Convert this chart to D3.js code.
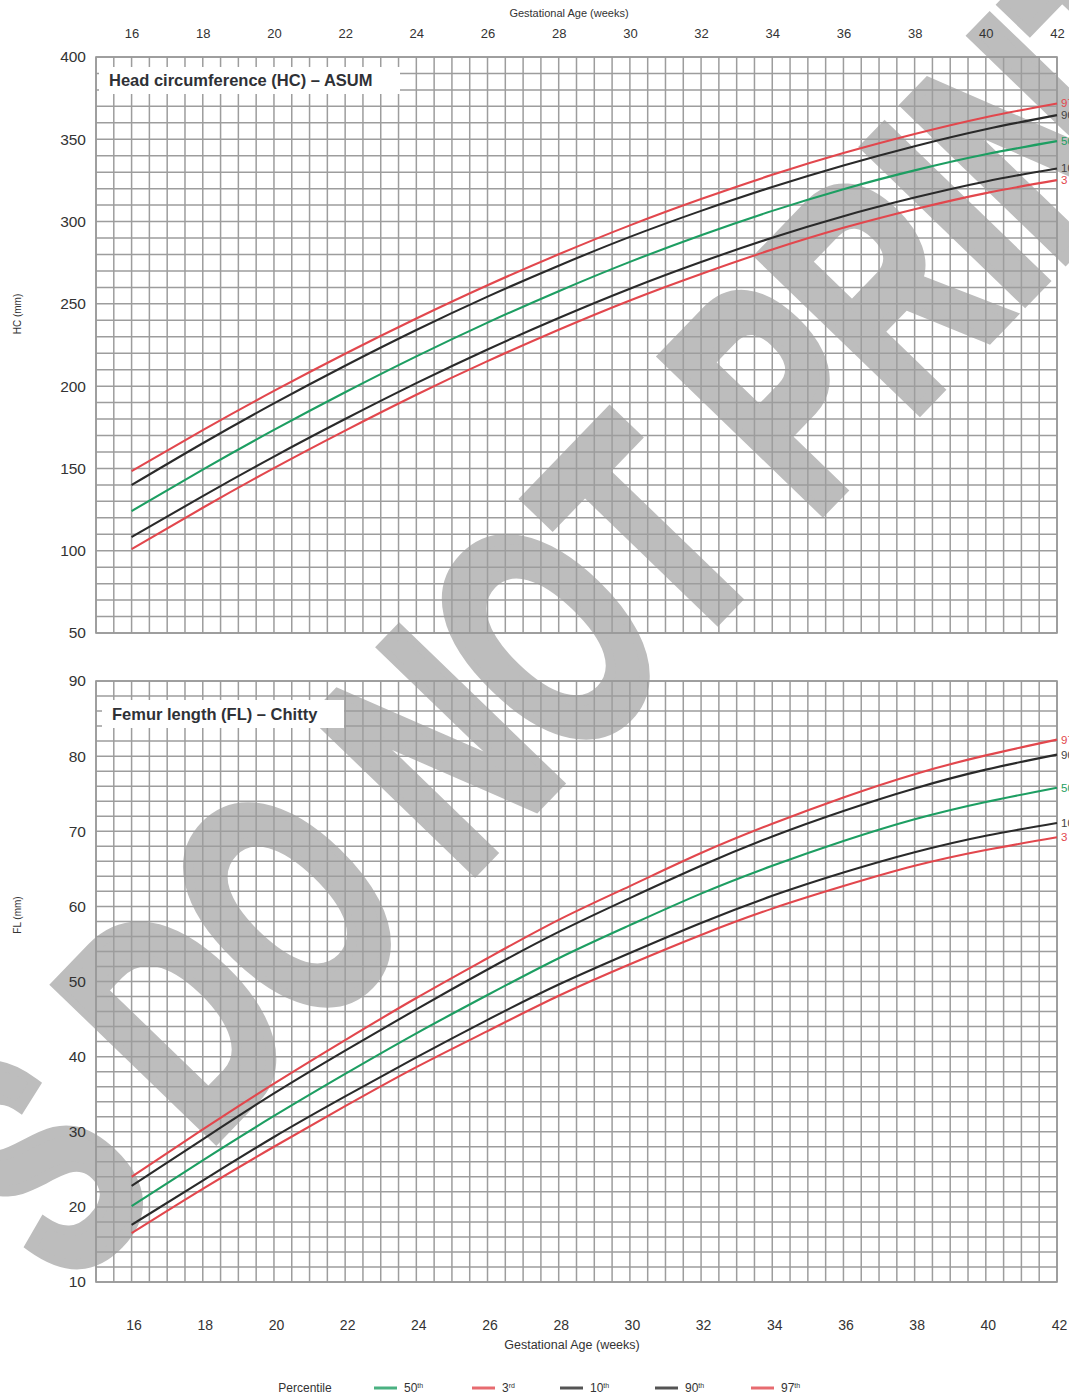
<!DOCTYPE html>
<html>
<head>
<meta charset="utf-8">
<script src="https://cdn.jsdelivr.net/npm/d3@7"></script>
<style>
  html, body { margin: 0; padding: 0; background: #fff; }
  svg { display: block; font-family: "Liberation Sans", Arial, sans-serif; }
</style>
</head>
<body>
<svg id="chart" width="1069" height="1396"></svg>
<script>
// Gestational age (weeks) at which the percentile values are given
const weeks = [16, 18, 20, 22, 24, 26, 28, 30, 32, 34, 36, 38, 40, 42];
const weekTicks = [16, 18, 20, 22, 24, 26, 28, 30, 32, 34, 36, 38, 40, 42];

// Head circumference (mm), ASUM
const hc3  = [101, 126.1, 150.2, 173, 194.8, 215.2, 234.3, 252.1, 268.2, 283, 296.2, 307.5, 317.3, 325.2];
const hc10 = [108.3, 133.2, 157.2, 180, 201.8, 222.3, 241.4, 259.2, 275.4, 290.2, 303.3, 314.6, 324.4, 332.3];
const hc50 = [124.1, 149.3, 173.4, 196.3, 218.1, 238.6, 257.7, 275.5, 291.7, 306.5, 319.7, 331.1, 340.9, 348.9];
const hc90 = [139.9, 165.3, 189.5, 212.4, 234.1, 254.4, 273.2, 290.7, 306.5, 321, 334.1, 345.8, 356.1, 364.7];
const hc97 = [148.4, 173.3, 197.1, 219.7, 241.1, 261.3, 280.1, 297.7, 313.7, 328.4, 341.6, 353.2, 363.4, 371.8];
const hcTicks = [50, 100, 150, 200, 250, 300, 350, 400];

// Femur length (mm), Chitty
const fl3  = [16.5, 22.4, 28.0, 33.4, 38.6, 43.4, 48.1, 52.3, 56.2, 59.7, 62.7, 65.4, 67.5, 69.2];
const fl10 = [17.6, 23.5, 29.3, 34.7, 39.9, 44.9, 49.6, 53.8, 57.8, 61.4, 64.5, 67.2, 69.4, 71.1];
const fl50 = [20.1, 26.2, 32.1, 37.7, 43.1, 48.2, 53.1, 57.5, 61.7, 65.4, 68.7, 71.6, 73.9, 75.8];
const fl90 = [22.8, 29.0, 35.1, 40.8, 46.3, 51.6, 56.6, 61.1, 65.4, 69.3, 72.7, 75.7, 78.2, 80.2];
const fl97 = [24.0, 30.3, 36.4, 42.2, 47.8, 53.1, 58.2, 62.7, 67.1, 71.0, 74.5, 77.6, 80.1, 82.2];
const flTicks = [10, 20, 30, 40, 50, 60, 70, 80, 90];

const legendOrder = [["50", "th"], ["3", "rd"], ["10", "th"], ["90", "th"], ["97", "th"]];

const RED = "#e2474d", GREEN = "#1d9e62", DARK = "#2a2a2a";
const colorOf = { "97": RED, "90": DARK, "50": GREEN, "10": DARK, "3": RED };
const GRID = "#9d9d9d";

const svg = d3.select("#chart");

const x = d3.scaleLinear().domain([15, 42]).range([96, 1057]);
const yHC = d3.scaleLinear().domain([50, 400]).range([633, 57]);
const yFL = d3.scaleLinear().domain([10, 90]).range([1282, 681]);

// Watermark behind the grid and curves
const wm = svg.append("g").attr("class", "watermark");
wm.append("text")
  .attr("transform", "translate(575,600) rotate(-46)")
  .attr("text-anchor", "middle")
  .attr("dy", "0.36em")
  .attr("font-family", "'Liberation Sans', Arial, sans-serif")
  .attr("font-weight", "bold")
  .attr("font-size", 320)
  .attr("textLength", 1700)
  .attr("lengthAdjust", "spacingAndGlyphs")
  .attr("fill", "#bdbdbd")
  .attr("stroke", "#bdbdbd")
  .attr("stroke-width", 12)
  .attr("stroke-linejoin", "miter")
  .text("S DO NOT PRINT");

function panel(y, minor, ticks, title, titleBox, label, labelY, series) {
  const g = svg.append("g");
  const [y0, y1] = y.domain();
  // vertical grid: every half week
  const vx = d3.range(15, 42.001, 0.5);
  g.append("g").selectAll("line").data(vx).join("line")
    .attr("x1", d => x(d)).attr("x2", d => x(d))
    .attr("y1", y(y1)).attr("y2", y(y0))
    .attr("stroke", GRID).attr("stroke-width", 1.5);
  const hy = d3.range(y0, y1 + 0.001, minor);
  g.append("g").selectAll("line").data(hy).join("line")
    .attr("x1", x(15)).attr("x2", x(42))
    .attr("y1", d => y(d)).attr("y2", d => y(d))
    .attr("stroke", GRID).attr("stroke-width", 1.5);
  g.append("rect")
    .attr("x", x(15)).attr("y", y(y1))
    .attr("width", x(42) - x(15)).attr("height", y(y0) - y(y1))
    .attr("fill", "none").attr("stroke", "#999").attr("stroke-width", 1.6);

  // title with white backing
  g.append("rect")
    .attr("x", titleBox[0]).attr("y", titleBox[1])
    .attr("width", titleBox[2]).attr("height", titleBox[3])
    .attr("fill", "#fff");
  g.append("text")
    .attr("x", titleBox[0] + 10).attr("y", titleBox[1] + titleBox[3] / 2)
    .attr("dy", "0.35em")
    .attr("font-weight", "bold").attr("font-size", 16.5)
    .attr("fill", "#2f3136")
    .text(title);

  // y axis
  const ax = g.append("g").attr("transform", `translate(${x(15) - 8},0)`)
    .call(d3.axisLeft(y).tickValues(ticks).tickSize(0).tickPadding(2));
  ax.select(".domain").remove();
  ax.selectAll("text").attr("font-size", 15.5).attr("fill", "#333")
    .attr("font-family", "'Liberation Sans', Arial, sans-serif");

  g.append("text")
    .attr("transform", `translate(21,${labelY}) rotate(-90)`)
    .attr("text-anchor", "middle")
    .attr("font-size", 10).attr("fill", "#333")
    .text(label);

  // percentile curves
  const line = d3.line().x((d, i) => x(weeks[i])).y(d => y(d)).curve(d3.curveNatural);
  series.forEach(([name, vals]) => {
    g.append("path")
      .attr("d", line(vals))
      .attr("fill", "none")
      .attr("stroke", colorOf[name])
      .attr("stroke-width", 2.1);
    g.append("text")
      .attr("x", x(42) + 4).attr("y", y(vals[vals.length - 1]))
      .attr("dy", "0.35em")
      .attr("font-size", 11.5)
      .attr("fill", colorOf[name] === DARK ? "#444" : colorOf[name])
      .text(name);
  });
}

panel(yHC, 10, hcTicks, "Head circumference (HC) – ASUM", [99, 67, 301, 27], "HC (mm)", 314,
  [["97", hc97], ["90", hc90], ["50", hc50], ["10", hc10], ["3", hc3]]);
panel(yFL, 2, flTicks, "Femur length (FL) – Chitty", [102, 700, 242, 28], "FL (mm)", 915,
  [["97", fl97], ["90", fl90], ["50", fl50], ["10", fl10], ["3", fl3]]);

// top week axis
const topAxis = svg.append("g").attr("transform", "translate(0,38)")
  .call(d3.axisTop(x).tickValues(weekTicks).tickSize(0).tickPadding(0));
topAxis.select(".domain").remove();
topAxis.selectAll("text").attr("font-size", 13).attr("fill", "#333")
  .attr("font-family", "'Liberation Sans', Arial, sans-serif");
svg.append("text").attr("x", 569).attr("y", 17).attr("text-anchor", "middle")
  .attr("font-size", 11).attr("fill", "#333").text("Gestational Age (weeks)");

// bottom week axis
const bottomAxis = svg.append("g").attr("transform", "translate(2,1320)")
  .call(d3.axisBottom(x).tickValues(weekTicks).tickSize(0).tickPadding(0));
bottomAxis.select(".domain").remove();
bottomAxis.selectAll("text").attr("font-size", 14).attr("fill", "#333")
  .attr("font-family", "'Liberation Sans Narrow', 'Liberation Sans', Arial, sans-serif");
svg.append("text").attr("x", 572).attr("y", 1349).attr("text-anchor", "middle")
  .attr("font-size", 12.5).attr("fill", "#333")
  .attr("font-family", "'Liberation Sans Narrow', 'Liberation Sans', Arial, sans-serif")
  .text("Gestational Age (weeks)");

// legend
const lg = svg.append("g").attr("font-size", 12).attr("fill", "#333")
  .attr("font-family", "'Liberation Sans Narrow', 'Liberation Sans', Arial, sans-serif");
lg.append("text").attr("x", 305).attr("y", 1392).attr("text-anchor", "middle").text("Percentile");
const legendX = [374, 472, 560, 655, 751];
legendOrder.forEach(([n, suf], i) => {
  const lx = legendX[i];
  lg.append("line").attr("x1", lx).attr("x2", lx + 23).attr("y1", 1388).attr("y2", 1388)
    .attr("stroke", colorOf[n]).attr("stroke-width", 3).attr("opacity", 0.8);
  const t = lg.append("text").attr("x", lx + 30).attr("y", 1392);
  t.append("tspan").text(n);
  t.append("tspan").attr("font-size", 7).attr("dy", -4).text(suf);
});
</script>
</body>
</html>
